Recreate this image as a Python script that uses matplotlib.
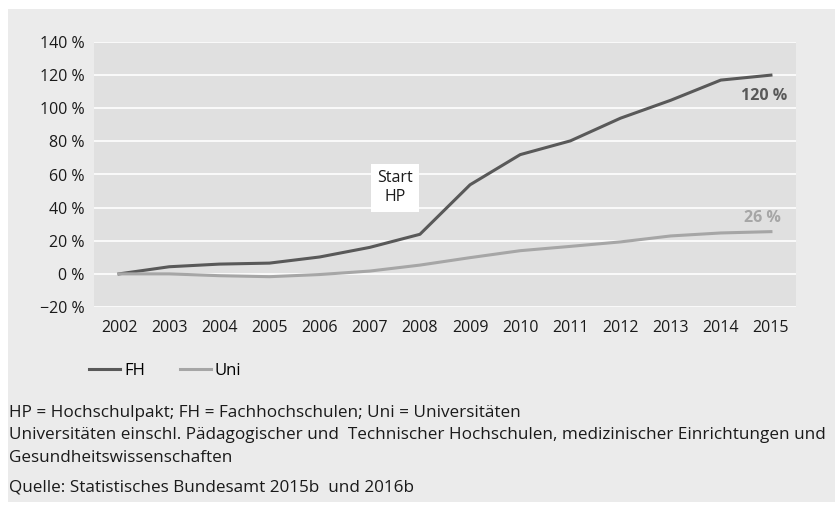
import numpy as np
import matplotlib.pyplot as plt
from matplotlib.patches import Rectangle
from matplotlib.lines import Line2D

# --- data ---
years = ["2002", "2003", "2004", "2005", "2006", "2007", "2008",
         "2009", "2010", "2011", "2012", "2013", "2014", "2015"]
fh = [0, 4.3, 5.9, 6.5, 10.2, 16.0, 23.9, 53.8, 72.0, 80.3, 94.0, 104.8, 117.0, 120.0]
uni = [0, 0, -1.1, -1.7, -0.4, 1.7, 5.3, 9.8, 14.0, 16.6, 19.3, 22.9, 24.7, 25.5]
yticks = [-20, 0, 20, 40, 60, 80, 100, 120, 140]

fh_col = "#595959"
uni_col = "#a6a6a6"
font = ["Open Sans", "DejaVu Sans"]

W, H = 835, 511
fig = plt.figure(figsize=(W / 100, H / 100), dpi=100)
fig.patch.set_facecolor("white")
# light grey box behind everything
fig.patches.append(Rectangle((8 / W, 1 - 502 / H), 1, (502 - 9) / H,
                             transform=fig.transFigure,
                             facecolor="#ebebeb", edgecolor="none", zorder=-10))

ax = fig.add_axes([94 / W, 1 - 307 / H, (796 - 94) / W, (307 - 42) / H])
ax.set_facecolor("#e0e0e0")
x = np.arange(len(years))
ax.plot(x, fh, color=fh_col, lw=2.2, solid_joinstyle="round", zorder=3)
ax.plot(x, uni, color=uni_col, lw=2.2, solid_joinstyle="round", zorder=3)

ax.set_xlim(-0.5, len(years) - 0.5)
ax.set_ylim(-20, 140)
ax.set_yticks(yticks)
ax.set_yticklabels([(f"\u2212{-v} %" if v < 0 else f"{v} %") for v in yticks])
ax.set_xticks(x)
ax.set_xticklabels(years)
ax.grid(axis="y", color="white", lw=1.2, zorder=1)
ax.set_axisbelow(True)
ax.tick_params(length=0, labelsize=11.5, colors="#1a1a1a")
ax.tick_params(axis="y", pad=7)
ax.tick_params(axis="x", pad=9)
for lab in ax.get_xticklabels() + ax.get_yticklabels():
    lab.set_family(font)
for s in ax.spines.values():
    s.set_visible(False)

# end labels
ax.annotate("120 %", (x[-1], fh[-1]), xytext=(12, -15), textcoords="offset points",
            ha="right", va="center", fontsize=11.5, fontweight="bold",
            color=fh_col, family=font)
ax.annotate("26 %", (x[-1], uni[-1]), xytext=(7, 10), textcoords="offset points",
            ha="right", va="center", fontsize=11.5, fontweight="bold",
            color=uni_col, family=font)

# Start HP box
ax.text(5.5, 52, "Start\nHP", ha="center", va="center", fontsize=11.5,
        family=font, color="#1a1a1a", linespacing=1.25,
        bbox=dict(facecolor="white", edgecolor="none", boxstyle="square,pad=0.4"),
        zorder=4)

# legend
handles = [Line2D([], [], color=fh_col, lw=2.2), Line2D([], [], color=uni_col, lw=2.2)]
fig.legend(handles, ["FH", "Uni"], loc="center left",
           bbox_to_anchor=(89 / W, 1 - 371 / H), ncol=2, frameon=False,
           borderpad=0, borderaxespad=0,
           handlelength=1.85, handletextpad=0.25, columnspacing=2.1,
           prop={"family": font, "size": 12})

# footer notes
notes = [
    (413, "HP = Hochschulpakt; FH = Fachhochschulen; Uni = Universitäten"),
    (435, "Universitäten einschl. Pädagogischer und  Technischer Hochschulen, medizinischer Einrichtungen und"),
    (458, "Gesundheitswissenschaften"),
    (488, "Quelle: Statistisches Bundesamt 2015b  und 2016b"),
]
for ypx, txt in notes:
    fig.text(9 / W, 1 - ypx / H, txt, ha="left", va="center", fontsize=12.3,
             family=font, color="#1a1a1a")

fig.savefig("out.png", dpi=100)
